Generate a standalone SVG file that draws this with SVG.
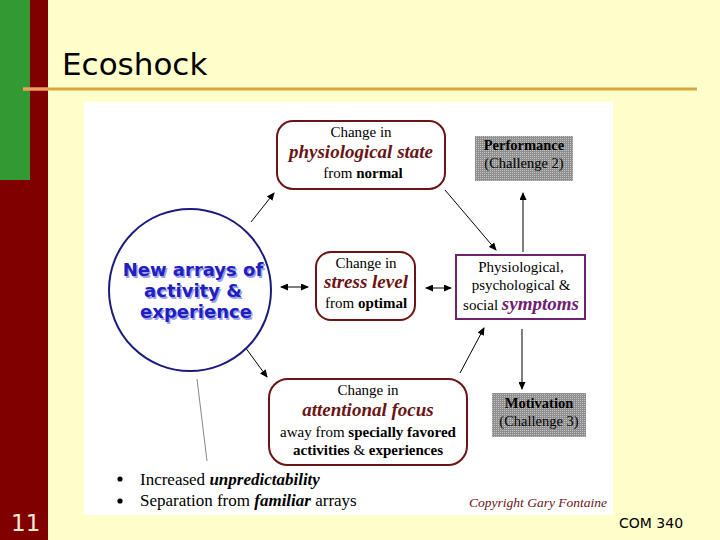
<svg xmlns="http://www.w3.org/2000/svg" width="720" height="540" viewBox="0 0 720 540">
<defs>
<style>
.sf{font-family:"Liberation Serif","Times New Roman",serif;fill:#000}
.r{font-size:15px}
.bi{font-size:19px;font-weight:bold;font-style:italic;fill:#6a1414}
.b{font-weight:bold}
.node{fill:#fff;stroke:#6a1414;stroke-width:2}
.conn{stroke:#000;stroke-width:1;fill:none}
.gray{fill:url(#dots)}
</style>
<pattern id="dots" width="2" height="2" patternUnits="userSpaceOnUse">
<rect width="2" height="2" fill="#8e8e8e"/>
<rect width="1" height="1" fill="#c4c4c4"/>
</pattern>
<marker id="ah" markerWidth="8" markerHeight="7" refX="7" refY="3.5" orient="auto" markerUnits="userSpaceOnUse">
<path d="M0,0 L8,3.5 L0,7 Z" fill="#000"/>
</marker>
<marker id="as" markerWidth="8" markerHeight="7" refX="1" refY="3.5" orient="auto" markerUnits="userSpaceOnUse">
<path d="M8,0 L0,3.5 L8,7 Z" fill="#000"/>
</marker>
</defs>
<rect width="720" height="540" fill="#FFFFCC"/>
<rect x="0" y="0" width="48" height="540" fill="#800000"/>
<rect x="0" y="0" width="30" height="180" fill="#339933"/>
<text x="62" y="75" font-family="DejaVu Sans,sans-serif" font-size="31" fill="#000">Ecoshock</text>
<line x1="23" y1="89" x2="697" y2="89" stroke="#D9A740" stroke-width="3"/>
<line x1="23" y1="89" x2="48" y2="89" stroke="#F0A060" stroke-width="3"/>
<rect x="84" y="102" width="529" height="413" fill="#fff"/>
<text x="11" y="531" font-family="DejaVu Sans,sans-serif" font-size="23" fill="#FBE8D0">11</text>
<text x="619" y="528" font-family="DejaVu Sans,sans-serif" font-size="14" fill="#000">COM 340</text>

<g id="connectors">
<line class="conn" x1="251" y1="222" x2="274" y2="193" marker-end="url(#ah)"/>
<line class="conn" x1="445" y1="190" x2="496" y2="250" marker-end="url(#ah)"/>
<line class="conn" x1="523" y1="252" x2="523" y2="193" marker-end="url(#ah)"/>
<line class="conn" x1="281" y1="287" x2="308" y2="287" marker-start="url(#as)" marker-end="url(#ah)"/>
<line class="conn" x1="426" y1="288" x2="451" y2="288" marker-start="url(#as)" marker-end="url(#ah)"/>
<line class="conn" x1="522" y1="329" x2="522" y2="389" marker-end="url(#ah)"/>
<line class="conn" x1="460" y1="373" x2="484" y2="328" marker-end="url(#ah)"/>
<line class="conn" x1="245" y1="347" x2="267" y2="377" marker-end="url(#ah)"/>
<line x1="197" y1="379" x2="207" y2="461" stroke="#888" stroke-width="1"/>
</g>

<g id="circle">
<circle cx="190" cy="290" r="81" fill="#fff" stroke="#1c1c80" stroke-width="2"/>
<g font-family="DejaVu Sans,sans-serif" font-size="18" font-weight="bold" text-anchor="middle">
<g fill="#A0A0E8" transform="translate(1.5,1.5)">
<text x="193" y="276">New arrays of</text>
<text x="193" y="297">activity &amp;</text>
<text x="196" y="318">experience</text>
</g>
<g fill="#2020C0">
<text x="193" y="276">New arrays of</text>
<text x="193" y="297">activity &amp;</text>
<text x="196" y="318">experience</text>
</g>
</g>
</g>

<g id="physiological">
<rect class="node" x="277" y="121" width="168" height="68" rx="16"/>
<g class="sf" text-anchor="middle">
<text class="r" x="361" y="137">Change in</text>
<text class="bi" x="361" y="158">physiological state</text>
<text class="r" x="363" y="178">from <tspan class="b">normal</tspan></text>
</g>
</g>

<g id="performance">
<rect class="gray" x="475" y="136" width="98" height="45"/>
<g class="sf" text-anchor="middle" font-size="14.5">
<text class="b" x="524" y="150">Performance</text>
<text x="524" y="168">(Challenge 2)</text>
</g>
</g>

<g id="stress">
<rect class="node" x="316" y="252" width="99" height="68" rx="15"/>
<g class="sf" text-anchor="middle">
<text class="r" x="366" y="268">Change in</text>
<text class="bi" x="366" y="288">stress level</text>
<text class="r" x="366" y="308">from <tspan class="b">optimal</tspan></text>
</g>
</g>

<g id="symptoms">
<rect x="456" y="255" width="129" height="64" fill="#fff" stroke="#702070" stroke-width="2"/>
<g class="sf" text-anchor="middle">
<text class="r" x="521" y="272">Physiological,</text>
<text class="r" x="521" y="290">psychological &amp;</text>
<text class="r" x="521" y="310">social <tspan class="bi" style="fill:#702070">symptoms</tspan></text>
</g>
</g>

<g id="attentional">
<rect class="node" x="269" y="379" width="198" height="86" rx="19"/>
<g class="sf" text-anchor="middle">
<text class="r" x="368" y="395">Change in</text>
<text class="bi" x="368" y="416">attentional focus</text>
<text class="r" x="368" y="437">away from <tspan class="b">specially favored</tspan></text>
<text class="r b" x="368" y="455">activities <tspan font-weight="normal">&amp;</tspan> experiences</text>
</g>
</g>

<g id="motivation">
<rect class="gray" x="492" y="393" width="94" height="44"/>
<g class="sf" text-anchor="middle" font-size="14.5">
<text class="b" x="539" y="408">Motivation</text>
<text x="539" y="426">(Challenge 3)</text>
</g>
</g>

<g id="bullets" class="sf" font-size="17">
<circle cx="120" cy="479" r="2.6" fill="#000"/>
<circle cx="120" cy="501" r="2.6" fill="#000"/>
<text x="140" y="485">Increased <tspan font-weight="bold" font-style="italic">unpredictability</tspan></text>
<text x="140" y="506">Separation from <tspan font-weight="bold" font-style="italic">familiar</tspan> arrays</text>
</g>
<text x="607" y="507" text-anchor="end" font-family="Liberation Serif,serif" font-style="italic" font-size="13.5" fill="#6a1414">Copyright Gary Fontaine</text>
</svg>
